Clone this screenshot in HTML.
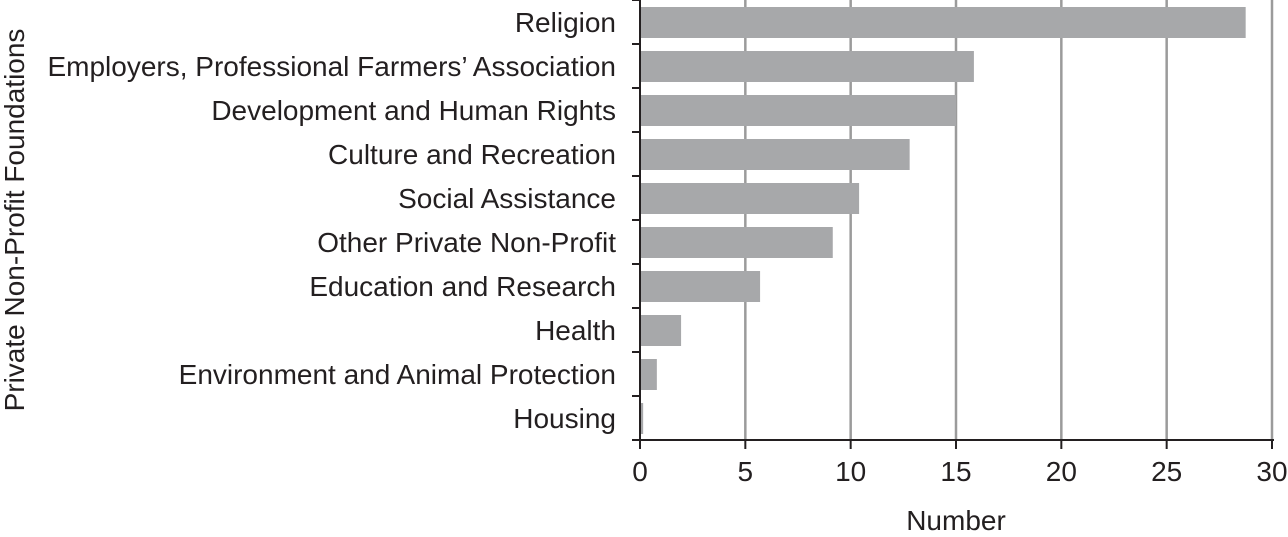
<!DOCTYPE html>
<html><head><meta charset="utf-8"><style>
html,body{margin:0;padding:0;background:#fff;}
svg{display:block;font-family:"Liberation Sans",Arial,sans-serif;}
</style></head><body>
<svg id="chart" width="1288" height="537"></svg>
<script>
const categories=["Religion","Employers, Professional Farmers’ Association","Development and Human Rights","Culture and Recreation","Social Assistance","Other Private Non-Profit","Education and Research","Health","Environment and Animal Protection","Housing"];
const values=[28.75,15.85,15.0,12.8,10.4,9.15,5.7,1.95,0.8,0.15];
const xTicks=[0,5,10,15,20,25,30];
const NS="http://www.w3.org/2000/svg";
const svgEl=document.getElementById('chart');
const x0=640,x1=1272,plotTop=0,plotBottom=440,band=44;
const FS=28;
function xs(v){return x0+(v-0)/(30-0)*(x1-x0);}
function ys(i){return plotTop+i*band;}
function mk(t,a,p){const e=document.createElementNS(NS,t);for(const k in a)e.setAttribute(k,a[k]);(p||svgEl).appendChild(e);return e;}
const grid=mk('g',{});


xTicks.forEach(t=>{if(t===0)return;const l=mk('line',{x1:xs(t),x2:xs(t),y1:0,y2:plotBottom,stroke:'#9b9b9b','stroke-width':2.5},grid);

});
categories.forEach((c,i)=>{
const b=mk('rect',{x:x0,y:ys(i)+7,width:xs(values[i])-x0,height:31,fill:'#a7a8aa'});


const t=mk('text',{x:616,y:ys(i)+32,'text-anchor':'end','font-size':FS,fill:'#231f20'});t.textContent=c;


const tk=mk('line',{x1:x0-8,x2:x0,y1:ys(i),y2:ys(i),stroke:'#231f20','stroke-width':2});


});
const ya=mk('line',{x1:x0,x2:x0,y1:0,y2:plotBottom+1,stroke:'#231f20','stroke-width':2});


const xa=mk('line',{x1:x0-8,x2:x1+2,y1:plotBottom,y2:plotBottom,stroke:'#231f20','stroke-width':2});


xTicks.forEach(t=>{
const l=mk('line',{x1:xs(t),x2:xs(t),y1:plotBottom,y2:plotBottom+9,stroke:'#231f20','stroke-width':2});


const tx=mk('text',{x:xs(t),y:481,'text-anchor':'middle','font-size':FS,fill:'#231f20'});tx.textContent=t;


});
const xt=mk('text',{x:956,y:530,'text-anchor':'middle','font-size':FS,fill:'#231f20'});xt.textContent='Number';


const yt=mk('text',{x:0,y:0,'text-anchor':'middle','font-size':FS,fill:'#231f20',transform:'translate(24,220) rotate(-90)'});yt.textContent='Private Non-Profit Foundations';


</script>
</body></html>
